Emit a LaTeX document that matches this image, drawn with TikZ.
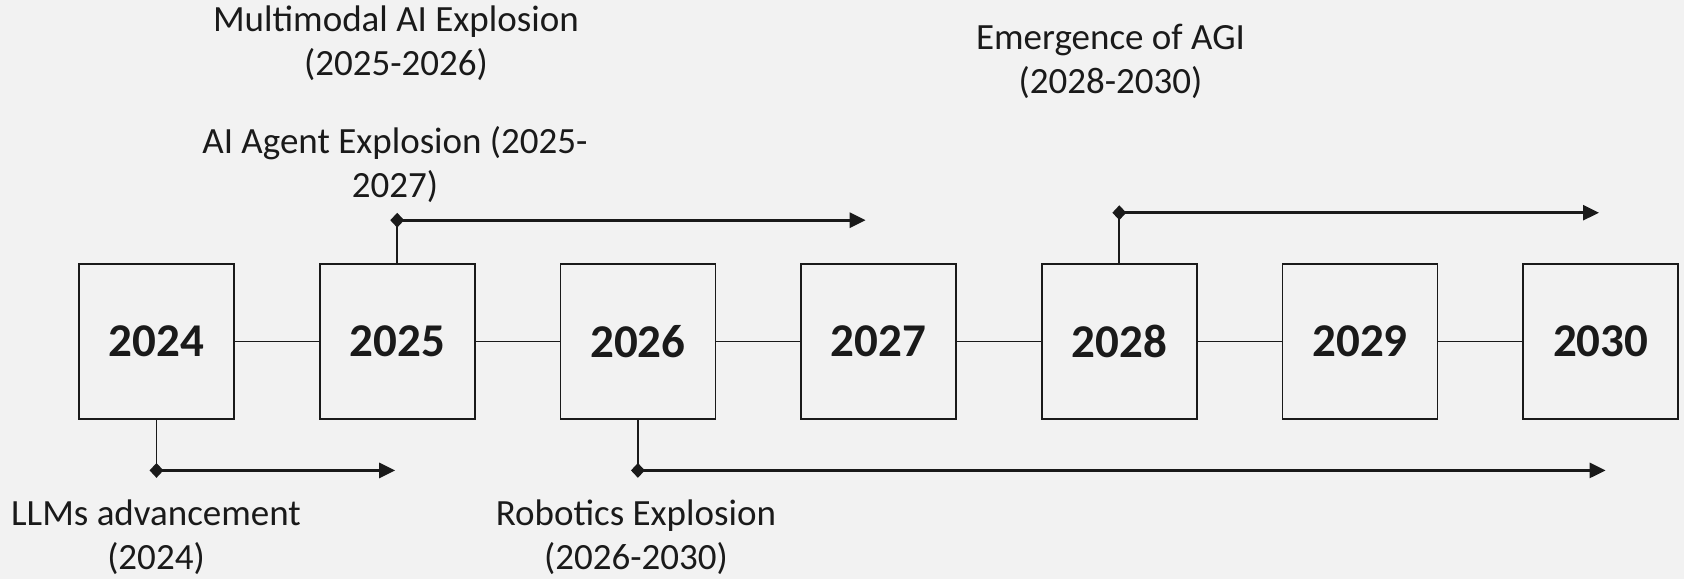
\documentclass[tikz,border=0pt]{standalone}
\usepackage{fontspec}
\setmainfont{Carlito}
\usetikzlibrary{arrows.meta,shapes.geometric}
\definecolor{bg}{HTML}{F2F2F2}
\definecolor{ink}{HTML}{1A1A1A}
\begin{document}
\begin{tikzpicture}[x=1pt,y=-1pt,
  yearbox/.style={draw=ink, line width=1.7pt, minimum width=155pt, minimum height=155pt, inner sep=0pt, font=\fontsize{47}{47}\selectfont\bfseries, text=ink},
  lbl/.style={align=center, font=\fontsize{37}{44}\selectfont, text=ink, inner sep=0pt},
  link/.style={draw=ink, line width=1.7pt},
  span/.style={draw=ink, line width=2.8pt, -{Triangle[length=16pt,width=15pt]}},
  knot/.style={diamond, fill=ink, inner sep=0pt, minimum width=14pt, minimum height=15pt},
]
\fill[bg] (0,0) rectangle (1684,579);
\useasboundingbox (0,0) rectangle (1684,579);

\node[yearbox] (b2024) at (156.5,341.5) {2024};
\node[yearbox] (b2025) at (397.2,341.5) {2025};
\node[yearbox] (b2026) at (637.9,341.5) {2026};
\node[yearbox] (b2027) at (878.6,341.5) {2027};
\node[yearbox] (b2028) at (1119.3,341.5) {2028};
\node[yearbox] (b2029) at (1360.0,341.5) {2029};
\node[yearbox] (b2030) at (1600.7,341.5) {2030};

\draw[link] (b2024) -- (b2025);
\draw[link] (b2025) -- (b2026);
\draw[link] (b2026) -- (b2027);
\draw[link] (b2027) -- (b2028);
\draw[link] (b2028) -- (b2029);
\draw[link] (b2029) -- (b2030);

% LLMs advancement
\node[knot] (d24) at (b2024.south |- 0,470.4) {};
\coordinate (e24) at (395.2,470.4);
\draw[link] (b2024.south) -- (d24.center);
\draw[span] (d24.center) -- (e24);
\node[lbl] (t24) at (156,537) {LLMs advancement\\(2024)};

% AI Agent Explosion
\node[knot] (d25) at (b2025.north |- 0,220.2) {};
\coordinate (e25) at (865.6,220.2);
\draw[link] (b2025.north) -- (d25.center);
\draw[span] (d25.center) -- (e25);
\node[lbl] (t25) at (395,165) {AI Agent Explosion (2025-\\2027)};
\node[lbl] (t25b) at (396,43.5) {Multimodal AI Explosion\\(2025-2026)};

% Robotics Explosion
\node[knot] (d26) at (b2026.south |- 0,470.4) {};
\coordinate (e26) at (1605.6,470.4);
\draw[link] (b2026.south) -- (d26.center);
\draw[span] (d26.center) -- (e26);
\node[lbl] (t26) at (636,537) {Robotics Explosion\\(2026-2030)};

% Emergence of AGI
\node[knot] (d28) at (b2028.north |- 0,212.7) {};
\coordinate (e28) at (1599,212.7);
\draw[link] (b2028.north) -- (d28.center);
\draw[span] (d28.center) -- (e28);
\node[lbl] (t28) at (1110.5,61.5) {Emergence of AGI\\(2028-2030)};
\end{tikzpicture}
\end{document}
